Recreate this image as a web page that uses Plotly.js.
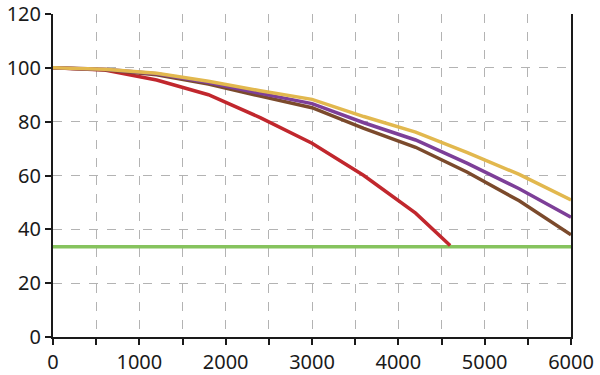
<!DOCTYPE html>
<html>
<head>
<meta charset="utf-8">
<script src="https://cdn.plot.ly/plotly-3.0.1.min.js"></script>
<style>html,body{margin:0;padding:0;background:#fff;}#chart{width:600px;height:375px;}</style>
</head>
<body>
<div id="chart"></div>
<script>
const xGrid = [0, 600, 1200, 1800, 2400, 3000, 3600, 4200, 4800, 5400, 6000];
const goldY   = [100, 99.5, 98.0, 95.0, 91.5, 88.3, 81.9, 76.1, 68.5, 60.4, 50.9];
const purpleY = [100, 99.5, 97.8, 94.5, 90.5, 86.7, 79.6, 73.2, 64.5, 55.1, 44.5];
const brownY  = [100, 99.3, 97.4, 94.0, 89.5, 85.2, 77.5, 70.5, 61.2, 50.6, 38.0];
const redX = [0, 600, 1200, 1800, 2400, 3000, 3600, 4200, 4600];
const redY = [100, 99.2, 95.5, 90.0, 81.5, 72.0, 60.0, 46.0, 34.0];
const greenX = [0, 6000];
const greenY = [33.5, 33.5];
const xTickVals = [0, 500, 1000, 1500, 2000, 2500, 3000, 3500, 4000, 4500, 5000, 5500, 6000];
const xTickText = ["0", "", "1000", "", "2000", "", "3000", "", "4000", "", "5000", "", "6000"];
const yTickVals = [0, 20, 40, 60, 80, 100, 120];

const traces = [
  {x: greenX, y: greenY, color: '#86c35e'},
  {x: redX, y: redY, color: '#c1272d'},
  {x: xGrid, y: brownY, color: '#7b4a2c'},
  {x: xGrid, y: purpleY, color: '#7d3f98'},
  {x: xGrid, y: goldY, color: '#e2b84e'}
].map(t => ({x: t.x, y: t.y, mode: 'lines', type: 'scatter', line: {color: t.color, width: 3.5}, hoverinfo: 'skip'}));

const font = {family: 'Noto Sans, sans-serif', size: 20, color: '#1a1a1a'};
const layout = {
  width: 600, height: 375,
  margin: {l: 53, r: 29, t: 14, b: 38},
  paper_bgcolor: '#fff', plot_bgcolor: '#fff',
  showlegend: false,
  font: font,
  xaxis: {
    range: [0, 6000], tickmode: 'array', tickvals: xTickVals, ticktext: xTickText,
    showgrid: true, gridcolor: '#b3b3b3', griddash: 'dash', gridwidth: 1,
    showline: true, linecolor: '#1a1a1a', linewidth: 2,
    ticks: 'outside', ticklen: 6, tickwidth: 2, tickcolor: '#1a1a1a',
    zeroline: false, tickfont: font, fixedrange: true, ticklabeloverflow: 'allow'
  },
  yaxis: {
    range: [0, 120], tickmode: 'array', tickvals: yTickVals,
    showgrid: true, gridcolor: '#b3b3b3', griddash: 'dash', gridwidth: 1,
    showline: true, linecolor: '#1a1a1a', linewidth: 2, mirror: true,
    ticks: 'outside', ticklen: 6, tickwidth: 2, tickcolor: '#1a1a1a',
    zeroline: false, tickfont: font, fixedrange: true, ticklabeloverflow: 'allow'
  }
};
Plotly.newPlot('chart', traces, layout, {staticPlot: true, displayModeBar: false});
</script>
</body>
</html>
